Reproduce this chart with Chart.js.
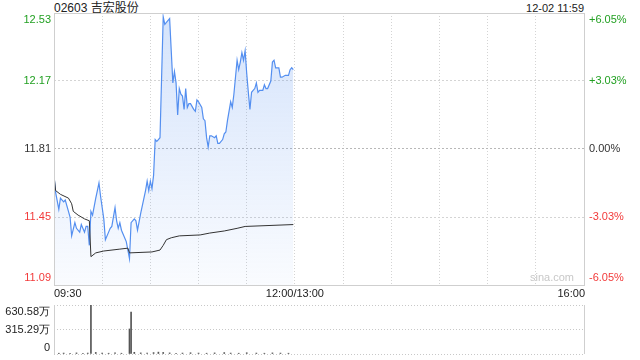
<!DOCTYPE html>
<html>
<head>
<meta charset="utf-8">
<script src="https://cdn.jsdelivr.net/npm/chart.js@4.4.0/dist/chart.umd.min.js"></script>
<style>
  body { margin: 0; background: #fff; width: 640px; height: 360px; overflow: hidden; position: relative; font-family: "Liberation Sans", Arial, sans-serif; }
  #price { position: absolute; left: 0; top: 0; }
  #vol { position: absolute; left: 0; top: 300px; }
  .t { position: absolute; white-space: nowrap; color: #222; line-height: 14px; }
</style>
</head>
<body>
<div class="t" style="left:54px;top:0px;font-size:12px">02603 <span style="font-family:'Noto Sans CJK SC'">吉宏股份</span></div>
<div class="t" style="right:56px;top:1px;font-size:11px">12-02 11:59</div>
<canvas id="price" width="640" height="300"></canvas>
<canvas id="vol" width="640" height="60"></canvas>
<script>
// minutes since 09:30 (12:00 and 13:00 share the same point: 150)
const priceTimes = [0, 1, 3, 4, 6, 7, 9, 10, 11, 13, 14, 16, 17, 19, 20, 21, 22, 23, 24, 26,
  27, 28, 29, 31, 32, 34, 35, 36, 38, 39, 40, 41, 42, 45, 47, 48, 50, 51, 52, 54,
  55, 56, 57, 58, 59, 60, 61, 62, 63, 64, 65, 66, 68, 69, 70, 72, 73, 74, 75, 76,
  77, 78, 79, 80, 81, 82, 83, 84, 85, 87, 88, 89, 90, 92, 93, 94, 95, 96, 97, 98,
  100, 101, 102, 103, 105, 106, 107, 108, 110, 111, 112, 114, 115, 116, 117, 118, 119, 120, 121, 122,
  123, 124, 125, 126, 127, 128, 130, 131, 132, 133, 135, 136, 137, 138, 140, 141, 142, 144, 146, 147,
  148, 149];
const prices = [11.67, 11.58, 11.49, 11.55, 11.53, 11.54, 11.48, 11.45, 11.35, 11.42, 11.39, 11.37, 11.41, 11.37, 11.40, 11.40, 11.30, 11.48, 11.46, 11.55,
  11.59, 11.63, 11.56, 11.44, 11.33, 11.37, 11.39, 11.40, 11.50, 11.43, 11.39, 11.42, 11.38, 11.32, 11.23, 11.42, 11.44, 11.43, 11.38, 11.47,
  11.51, 11.55, 11.59, 11.64, 11.59, 11.64, 11.60, 11.67, 11.86, 11.85, 11.86, 11.87, 12.51, 12.47, 12.48, 12.50, 12.33, 12.16, 12.22, 12.16,
  11.99, 12.13, 12.10, 12.09, 12.02, 12.13, 12.03, 12.05, 12.05, 12.02, 12.01, 12.07, 12.06, 12.03, 11.97, 11.96, 11.87, 11.82, 11.88, 11.88,
  11.87, 11.88, 11.84, 11.84, 11.86, 11.89, 11.90, 11.96, 12.06, 12.03, 12.10, 12.28, 12.23, 12.27, 12.32, 12.28, 12.33, 12.21, 12.11, 12.02,
  12.11, 12.12, 12.13, 12.16, 12.11, 12.12, 12.12, 12.15, 12.13, 12.13, 12.17, 12.27, 12.28, 12.24, 12.24, 12.19, 12.19, 12.20, 12.20, 12.23,
  12.24, 12.23];

const avgTimes = [0, 1, 4, 9, 11, 12, 15, 19, 22, 23, 26, 31, 41, 46, 47, 61, 66, 68, 70, 73, 78, 91, 97, 106, 114, 119, 149];
const avgPrices = [11.67, 11.59, 11.57, 11.55, 11.52, 11.48, 11.46, 11.44, 11.43, 11.24, 11.26, 11.27, 11.28, 11.285, 11.26, 11.265, 11.275, 11.30, 11.33, 11.34, 11.35, 11.355, 11.365, 11.376, 11.39, 11.40, 11.41];

// volume in 万
const volTimes = [0, 3, 6, 10, 14, 18, 21, 23, 26, 30, 34, 38, 42, 47, 48, 50, 54, 58, 62, 65, 68, 72, 76, 80, 85, 90, 95, 100, 106, 110, 115, 120, 126, 131, 136, 141, 146];
const volumes = [18, 10, 12, 8, 14, 10, 12, 630, 20, 12, 10, 16, 10, 322, 540, 22, 14, 12, 18, 24, 20, 14, 10, 12, 16, 12, 10, 14, 18, 12, 10, 16, 12, 10, 14, 12, 10];

const priceTicks = [11.09, 11.45, 11.81, 12.17, 12.53];
const priceTickLabels = ['11.09', '11.45', '11.81', '12.17', '12.53'];
const pctTickLabels = ['-6.05%', '-3.03%', '0.00%', '+3.03%', '+6.05%'];
const volTicks = [0, 315.29, 630.58];
const volTickLabels = ['0', '315.29万', '630.58万'];
const timeTicks = [0, 150, 330];
const timeTickLabels = ['09:30', '12:00/13:00', '16:00'];

const tickColors = ['#f23a3a', '#f23a3a', '#333', '#22a022', '#22a022'];
const FONT = '11px "Liberation Sans", Arial, sans-serif';

function toPoints(xs, ys) {
  return xs.map((x, i) => ({ x: x, y: ys[i] }));
}

const pricePlugin = {
  id: 'priceDecor',
  afterDraw(chart) {
    const ctx = chart.ctx, a = chart.chartArea, ys = chart.scales.y, xs = chart.scales.x;
    ctx.save();
    ctx.strokeStyle = '#cfcfcf';
    ctx.lineWidth = 1;
    ctx.strokeRect(Math.round(a.left) + 0.5, Math.round(a.top) + 0.5, Math.round(a.right - a.left), Math.round(a.bottom - a.top));
    ctx.font = FONT;
    ctx.textBaseline = 'middle';
    priceTicks.forEach((v, i) => {
      let py = ys.getPixelForValue(v);
      if (i === 0) py -= 7;
      if (i === priceTicks.length - 1) py += 7;
      ctx.fillStyle = tickColors[i];
      ctx.textAlign = 'right';
      ctx.fillText(priceTickLabels[i], a.left - 3, py);
      ctx.textAlign = 'left';
      ctx.fillText(pctTickLabels[i], a.right + 5, py);
    });
    ctx.fillStyle = '#222';
    const aligns = ['left', 'center', 'right'];
    timeTicks.forEach((v, i) => {
      ctx.textAlign = aligns[i];
      ctx.fillText(timeTickLabels[i], xs.getPixelForValue(v) + (i === 2 ? 1 : 0), a.bottom + 9);
    });
    ctx.fillStyle = '#c8c8c8';
    ctx.textAlign = 'right';
    ctx.fillText('sina.com', a.right - 10, a.bottom - 7);
    ctx.restore();
  }
};

new Chart(document.getElementById('price'), {
  type: 'line',
  data: {
    datasets: [{
      data: toPoints(avgTimes, avgPrices),
      borderColor: '#333',
      borderWidth: 1,
      pointRadius: 0,
      fill: false,
      tension: 0
    }, {
      data: toPoints(priceTimes, prices),
      borderColor: 'rgb(84,143,240)',
      borderWidth: 1.2,
      pointRadius: 0,
      tension: 0,
      fill: 'start',
      backgroundColor(c) {
        const a = c.chart.chartArea;
        if (!a) return 'rgba(84,143,240,0.15)';
        const g = c.chart.ctx.createLinearGradient(0, a.top, 0, a.bottom);
        g.addColorStop(0, 'rgba(84,143,240,0.25)');
        g.addColorStop(1, 'rgba(84,143,240,0.03)');
        return g;
      }
    }]
  },
  options: {
    responsive: false,
    animation: false,
    events: [],
    layout: { padding: { left: 54, right: 56, top: 13, bottom: 15 } },
    plugins: { legend: { display: false }, tooltip: { enabled: false } },
    scales: {
      x: {
        type: 'linear', min: 0, max: 330,
        ticks: { display: false, stepSize: 30 },
        grid: { color: '#d4d4d4', drawTicks: false },
        border: { display: false, dash: [1, 2] },
        afterFit(s) { s.height = 0; }
      },
      y: {
        min: 11.09, max: 12.53,
        ticks: { display: false },
        afterBuildTicks(s) { s.ticks = priceTicks.map(v => ({ value: v })); },
        grid: { color: c => (c.tick && c.tick.value === 11.81 ? '#b8b8b8' : '#d4d4d4'), drawTicks: false },
        border: { display: false, dash: [2, 2] },
        afterFit(s) { s.width = 0; }
      }
    }
  },
  plugins: [pricePlugin]
});

const volPlugin = {
  id: 'volDecor',
  afterDraw(chart) {
    const ctx = chart.ctx, a = chart.chartArea, ys = chart.scales.y;
    ctx.save();
    ctx.strokeStyle = '#cfcfcf';
    ctx.lineWidth = 1;
    ctx.beginPath();
    ctx.moveTo(Math.round(a.left) + 0.5, a.top);
    ctx.lineTo(Math.round(a.left) + 0.5, a.bottom);
    ctx.moveTo(Math.round(a.right) + 0.5, a.top);
    ctx.lineTo(Math.round(a.right) + 0.5, a.bottom);
    ctx.stroke();
    ctx.font = FONT;
    ctx.textBaseline = 'middle';
    ctx.textAlign = 'right';
    ctx.fillStyle = '#222';
    volTicks.forEach((v, i) => {
      let py = ys.getPixelForValue(v);
      if (i === 0) py -= 6;
      if (i === volTicks.length - 1) py += 7;
      ctx.fillText(volTickLabels[i], a.left - 4, py);
    });
    ctx.restore();
  }
};

new Chart(document.getElementById('vol'), {
  type: 'bar',
  data: {
    datasets: [{
      data: toPoints(volTimes, volumes),
      backgroundColor: '#555',
      barThickness: 1
    }]
  },
  options: {
    responsive: false,
    animation: false,
    events: [],
    layout: { padding: { left: 54, right: 56, top: 5, bottom: 6 } },
    plugins: { legend: { display: false }, tooltip: { enabled: false } },
    scales: {
      x: {
        type: 'linear', min: 0, max: 330, offset: false,
        ticks: { display: false },
        grid: { display: false },
        border: { display: false },
        afterFit(s) { s.height = 0; }
      },
      y: {
        min: 0, max: 630.58,
        ticks: { display: false },
        afterBuildTicks(s) { s.ticks = volTicks.map(v => ({ value: v })); },
        grid: { color: '#c8c8c8', drawTicks: false },
        border: { display: false, dash: [1, 2] },
        afterFit(s) { s.width = 0; }
      }
    }
  },
  plugins: [volPlugin]
});
</script>
</body>
</html>
